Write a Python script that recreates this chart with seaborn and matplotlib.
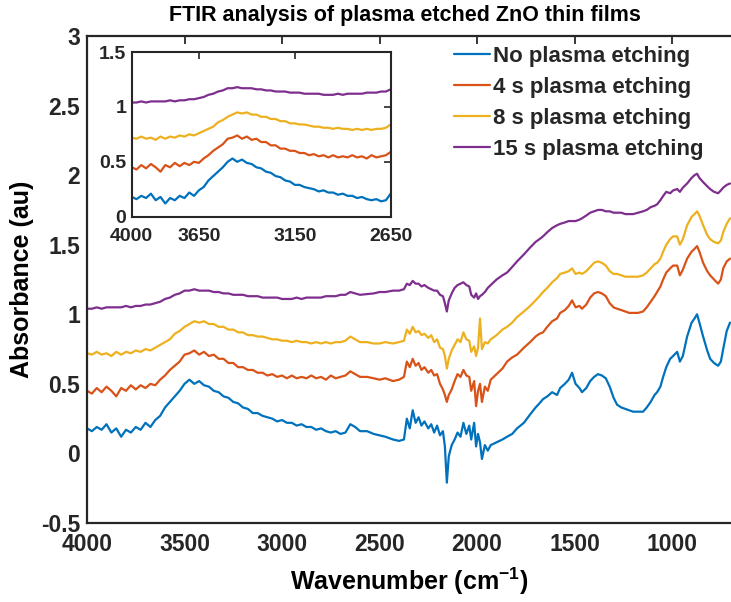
import matplotlib
matplotlib.use("Agg")
import matplotlib.pyplot as plt
import seaborn as sns
import pandas as pd

# ---------------- data ----------------
wavenumber = [
    4000, 3975, 3950, 3925, 3900, 3875, 3850, 3825, 3800, 3775, 3750, 3725, 3700, 3675,
    3650, 3625, 3600, 3575, 3550, 3525, 3500, 3475, 3450, 3425, 3400, 3375, 3350, 3325,
    3300, 3275, 3250, 3225, 3200, 3175, 3150, 3125, 3100, 3075, 3050, 3025, 3000, 2975,
    2950, 2925, 2900, 2875, 2850, 2825, 2800, 2775, 2750, 2725, 2700, 2675, 2650,
    2625, 2600, 2564, 2530, 2500, 2470, 2431, 2400, 2375, 2360, 2345, 2330, 2315, 2300,
    2285, 2270, 2250, 2235, 2220, 2205, 2190, 2175, 2165, 2155, 2145, 2130, 2115, 2100,
    2085, 2070, 2055, 2040, 2030, 2015, 2005, 1995, 1985, 1975, 1960, 1945, 1930, 1900,
    1870, 1846, 1820, 1795, 1760, 1728, 1700, 1680, 1662, 1640, 1615, 1590, 1574, 1550,
    1530, 1513, 1495, 1475, 1462, 1440, 1420, 1400, 1380, 1360, 1340, 1320, 1300, 1282,
    1260, 1240, 1220, 1200, 1175, 1149, 1130, 1110, 1090, 1077, 1060, 1046, 1030, 1010,
    995, 974, 960, 945, 923, 900, 885, 872, 860, 841, 820, 805, 785, 764, 750, 738, 720, 703,
]

no_plasma = [
    0.18, 0.16, 0.19, 0.17, 0.21, 0.15, 0.18, 0.12, 0.17, 0.15, 0.19, 0.17, 0.22, 0.19,
    0.24, 0.27, 0.33, 0.37, 0.41, 0.45, 0.50, 0.53, 0.50, 0.52, 0.49, 0.48, 0.45, 0.44,
    0.41, 0.40, 0.37, 0.36, 0.33, 0.32, 0.29, 0.29, 0.27, 0.26, 0.25, 0.23, 0.24, 0.22,
    0.22, 0.20, 0.21, 0.19, 0.19, 0.17, 0.18, 0.16, 0.15, 0.16, 0.14, 0.15, 0.21,
    0.19, 0.16, 0.16, 0.14, 0.13, 0.12, 0.10, 0.09, 0.10, 0.25, 0.18, 0.31, 0.22, 0.26,
    0.20, 0.23, 0.18, 0.21, 0.15, 0.20, 0.13, 0.16, 0.05, -0.21, -0.02, 0.06, 0.10, 0.15,
    0.12, 0.22, 0.14, 0.20, 0.10, 0.22, 0.05, 0.14, 0.08, -0.04, 0.06, 0.02, 0.06, 0.08,
    0.10, 0.12, 0.14, 0.18, 0.22, 0.28, 0.33, 0.36, 0.39, 0.41, 0.44, 0.42, 0.47, 0.50,
    0.53, 0.58, 0.50, 0.47, 0.44, 0.47, 0.52, 0.55, 0.57, 0.56, 0.54, 0.48, 0.40, 0.35,
    0.33, 0.32, 0.31, 0.30, 0.30, 0.30, 0.33, 0.37, 0.42, 0.44, 0.48, 0.55, 0.62, 0.68,
    0.70, 0.73, 0.66, 0.70, 0.84, 0.94, 0.97, 1.00, 0.94, 0.84, 0.74, 0.68, 0.65, 0.63, 0.66, 0.75, 0.88, 0.94,
]

etch_4s = [
    0.45, 0.43, 0.47, 0.44, 0.48, 0.45, 0.41, 0.47, 0.45, 0.49, 0.46, 0.49, 0.47, 0.50,
    0.49, 0.53, 0.56, 0.60, 0.63, 0.66, 0.71, 0.72, 0.74, 0.71, 0.73, 0.70, 0.71, 0.68,
    0.68, 0.65, 0.65, 0.62, 0.62, 0.60, 0.60, 0.58, 0.58, 0.56, 0.57, 0.55, 0.56, 0.54,
    0.56, 0.54, 0.55, 0.54, 0.56, 0.54, 0.55, 0.53, 0.56, 0.54, 0.55, 0.56, 0.59,
    0.57, 0.55, 0.55, 0.54, 0.53, 0.54, 0.52, 0.53, 0.55, 0.66, 0.62, 0.68, 0.63, 0.65,
    0.60, 0.62, 0.58, 0.60, 0.56, 0.57, 0.50, 0.46, 0.42, 0.37, 0.42, 0.46, 0.52, 0.57,
    0.55, 0.60, 0.56, 0.55, 0.45, 0.52, 0.34, 0.45, 0.50, 0.37, 0.48, 0.45, 0.53, 0.57,
    0.61, 0.66, 0.69, 0.71, 0.76, 0.80, 0.84, 0.86, 0.87, 0.91, 0.95, 0.97, 1.01, 1.03,
    1.06, 1.10, 1.05, 1.06, 1.04, 1.07, 1.12, 1.15, 1.16, 1.15, 1.13, 1.08, 1.05, 1.04,
    1.03, 1.02, 1.01, 1.01, 1.01, 1.02, 1.05, 1.09, 1.13, 1.16, 1.20, 1.25, 1.30, 1.33,
    1.35, 1.35, 1.28, 1.32, 1.40, 1.45, 1.47, 1.49, 1.45, 1.37, 1.31, 1.28, 1.25, 1.22, 1.25, 1.33, 1.38, 1.40,
]

etch_8s = [
    0.72, 0.71, 0.73, 0.71, 0.72, 0.70, 0.73, 0.71, 0.73, 0.72, 0.74, 0.73, 0.75, 0.74,
    0.76, 0.78, 0.80, 0.82, 0.86, 0.88, 0.91, 0.93, 0.95, 0.94, 0.95, 0.93, 0.93, 0.91,
    0.91, 0.89, 0.89, 0.87, 0.87, 0.85, 0.85, 0.84, 0.84, 0.83, 0.82, 0.82, 0.81, 0.81,
    0.80, 0.81, 0.80, 0.80, 0.79, 0.80, 0.79, 0.80, 0.79, 0.80, 0.80, 0.81, 0.84,
    0.82, 0.80, 0.80, 0.79, 0.79, 0.80, 0.79, 0.80, 0.81, 0.89, 0.86, 0.91, 0.87, 0.88,
    0.85, 0.86, 0.83, 0.85, 0.80, 0.82, 0.76, 0.75, 0.70, 0.61, 0.68, 0.74, 0.78, 0.82,
    0.80, 0.87, 0.82, 0.81, 0.73, 0.77, 0.70, 0.76, 0.97, 0.75, 0.80, 0.79, 0.82, 0.85,
    0.89, 0.91, 0.94, 0.98, 1.02, 1.06, 1.10, 1.13, 1.16, 1.19, 1.23, 1.26, 1.29, 1.30,
    1.31, 1.33, 1.29, 1.30, 1.29, 1.31, 1.34, 1.37, 1.38, 1.37, 1.35, 1.31, 1.29, 1.29,
    1.28, 1.27, 1.27, 1.27, 1.27, 1.28, 1.30, 1.33, 1.36, 1.37, 1.40, 1.45, 1.50, 1.54,
    1.56, 1.56, 1.50, 1.54, 1.64, 1.70, 1.72, 1.74, 1.71, 1.64, 1.57, 1.54, 1.52, 1.51, 1.53, 1.59, 1.65, 1.69,
]

etch_15s = [
    1.04, 1.04, 1.05, 1.04, 1.05, 1.05, 1.05, 1.05, 1.06, 1.05, 1.06, 1.06, 1.07, 1.07,
    1.08, 1.09, 1.11, 1.12, 1.14, 1.15, 1.17, 1.17, 1.18, 1.17, 1.17, 1.17, 1.16, 1.16,
    1.15, 1.15, 1.14, 1.14, 1.14, 1.13, 1.13, 1.13, 1.12, 1.12, 1.12, 1.12, 1.11, 1.11,
    1.11, 1.12, 1.11, 1.12, 1.12, 1.12, 1.12, 1.13, 1.13, 1.13, 1.14, 1.14, 1.16,
    1.15, 1.14, 1.145, 1.15, 1.16, 1.16, 1.17, 1.17, 1.18, 1.22, 1.21, 1.24, 1.22, 1.22,
    1.20, 1.21, 1.19, 1.18, 1.17, 1.17, 1.14, 1.13, 1.08, 1.02, 1.10, 1.15, 1.19, 1.21,
    1.22, 1.23, 1.21, 1.20, 1.14, 1.12, 1.15, 1.11, 1.13, 1.14, 1.16, 1.19, 1.21, 1.25,
    1.28, 1.30, 1.34, 1.38, 1.43, 1.48, 1.52, 1.54, 1.56, 1.59, 1.62, 1.64, 1.65, 1.66,
    1.67, 1.67, 1.67, 1.68, 1.69, 1.71, 1.73, 1.74, 1.75, 1.75, 1.74, 1.74, 1.73, 1.73,
    1.73, 1.72, 1.72, 1.72, 1.73, 1.74, 1.75, 1.77, 1.78, 1.79, 1.82, 1.85, 1.88, 1.87,
    1.89, 1.90, 1.88, 1.91, 1.94, 1.98, 2.00, 2.01, 1.98, 1.95, 1.92, 1.90, 1.88, 1.87, 1.89, 1.91, 1.93, 1.94,
]

series_names = ["No plasma etching", "4 s plasma etching", "8 s plasma etching", "15 s plasma etching"]
series_values = [no_plasma, etch_4s, etch_8s, etch_15s]
colors = ["#0072BD", "#D95319", "#EDB120", "#7E2F8E"]

main_xticks = [4000, 3500, 3000, 2500, 2000, 1500, 1000]
main_yticks = [-0.5, 0, 0.5, 1, 1.5, 2, 2.5, 3]
main_ytick_labels = ["-0.5", "0", "0.5", "1", "1.5", "2", "2.5", "3"]
inset_xticks = [4000, 3650, 3150, 2650]
inset_yticks = [0, 0.5, 1, 1.5]
inset_ytick_labels = ["0", "0.5", "1", "1.5"]

# ---------------- build long-form table ----------------
frames = []
for name, vals in zip(series_names, series_values):
    assert len(vals) == len(wavenumber), (name, len(vals), len(wavenumber))
    frames.append(pd.DataFrame({"Wavenumber": wavenumber, "Absorbance": vals, "Sample": name}))
df = pd.concat(frames, ignore_index=True)
palette = dict(zip(series_names, colors))

# ---------------- styling ----------------
sns.set_style("white")
plt.rcParams["font.family"] = ["Liberation Sans", "DejaVu Sans"]
plt.rcParams["font.weight"] = "bold"
plt.rcParams["mathtext.fontset"] = "custom"
plt.rcParams["mathtext.rm"] = "Liberation Sans:bold"
plt.rcParams["mathtext.default"] = "rm"
dark = "#262626"

fig = plt.figure(figsize=(7.31, 6.02), dpi=100)
ax = fig.add_axes([87 / 731, 79 / 602, 1 - 87 / 731, 487 / 602])

sns.lineplot(data=df, x="Wavenumber", y="Absorbance", hue="Sample", hue_order=series_names,
             palette=palette, sort=False, estimator=None, linewidth=1.6, legend=False, ax=ax)

ax.set_xlim(4000, 698)
ax.set_ylim(-0.5, 3)
ax.set_xticks(main_xticks)
ax.set_xticklabels([str(t) for t in main_xticks])
ax.set_yticks(main_yticks)
ax.set_yticklabels(main_ytick_labels)
ax.tick_params(axis="both", direction="in", length=6, width=1.3, colors=dark,
               labelsize=16.5, top=True, right=False)
ax.tick_params(axis="x", pad=7)
ax.tick_params(axis="y", pad=5)
for lab in ax.get_xticklabels() + ax.get_yticklabels():
    lab.set_fontweight("bold")
for side in ["left", "bottom", "top"]:
    ax.spines[side].set_visible(True)
    ax.spines[side].set_color(dark)
    ax.spines[side].set_linewidth(1.6)
ax.spines["right"].set_visible(False)

ax.set_xlabel(r"Wavenumber (cm$^{-1}$)", fontsize=18, fontweight="bold", color="black", labelpad=7)
ax.set_ylabel("Absorbance (au)", fontsize=18, fontweight="bold", color="black", labelpad=5)
fig.text(405 / 731, 1 - 15 / 602, "FTIR analysis of plasma etched ZnO thin films",
         ha="center", va="center", fontsize=15.5, fontweight="bold", color="black")

handles = ax.get_lines()[:4]
leg = ax.legend(handles, series_names, loc="upper left", bbox_to_anchor=(454 / 731, 1 - 46 / 602),
                bbox_transform=fig.transFigure, frameon=False, fontsize=16, handlelength=1.6,
                handletextpad=0.15, labelspacing=0.45, borderpad=0, borderaxespad=0)
for t in leg.get_texts():
    t.set_fontweight("bold")

# ---------------- inset ----------------
ins = fig.add_axes([131.7 / 731, 1 - 216.7 / 602, 259 / 731, 164.7 / 602])
ins.set_facecolor("white")
sns.lineplot(data=df[df["Wavenumber"] >= 2640], x="Wavenumber", y="Absorbance", hue="Sample",
             hue_order=series_names, palette=palette, sort=False, estimator=None,
             linewidth=1.6, legend=False, ax=ins)
ins.set_xlim(4000, 2650)
ins.set_ylim(0, 1.5)
ins.set_xticks(inset_xticks)
ins.set_xticklabels([str(t) for t in inset_xticks])
ins.set_yticks(inset_yticks)
ins.set_yticklabels(inset_ytick_labels)
ins.set_xlabel("")
ins.set_ylabel("")
ins.tick_params(axis="both", direction="in", length=5, width=1.2, colors=dark,
                labelsize=14, top=True, right=True)
ins.tick_params(axis="x", pad=8)
ins.tick_params(axis="y", pad=4)
for lab in ins.get_xticklabels() + ins.get_yticklabels():
    lab.set_fontweight("bold")
for side in ["left", "bottom", "top", "right"]:
    ins.spines[side].set_visible(True)
    ins.spines[side].set_color(dark)
    ins.spines[side].set_linewidth(1.5)

fig.savefig("out.png", dpi=100)
